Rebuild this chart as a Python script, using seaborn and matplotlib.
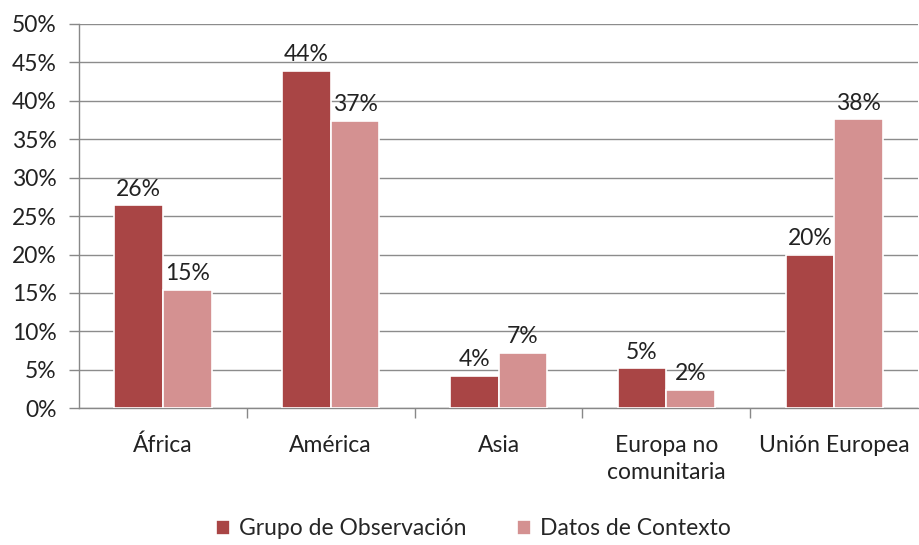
import numpy as np
import pandas as pd
import seaborn as sns
from matplotlib import pyplot as plt

regiones = ['África', 'América', 'Asia', 'Europa no\ncomunitaria', 'Unión Europea']
series = ['Grupo de Observación', 'Datos de Contexto']
grupo_obs = [26.4, 43.9, 4.2, 5.2, 20.0]
datos_ctx = [15.4, 37.4, 7.2, 2.4, 37.6]
colores = ['#A94545', '#D49191']

df = pd.DataFrame({
    'region': regiones * 2,
    'serie': [series[0]] * len(regiones) + [series[1]] * len(regiones),
    'valor': grupo_obs + datos_ctx,
})

sns.set_theme(style='white')
plt.rcParams['font.family'] = ['Lato', 'DejaVu Sans']

fig = plt.figure(figsize=(9.19, 5.45), dpi=100)
ax = fig.add_axes([0.086, 0.251, 0.913, 0.705])

sns.barplot(data=df, x='region', y='valor', hue='serie', order=regiones,
            hue_order=series, palette=colores, width=0.58,
            edgecolor='white', linewidth=1.2, saturation=1, ax=ax, zorder=3)

for cont in ax.containers:
    ax.bar_label(cont, fmt='%.0f%%', padding=4, fontsize=16.5, color='#222222')

ax.set_ylim(0, 50)
ax.set_xlim(-0.5, 4.5)
ax.set_yticks(np.arange(0, 51, 5))
ax.set_yticklabels([f'{v}%' for v in range(0, 51, 5)], fontsize=16.5, color='#222222')
ax.tick_params(axis='y', left=True, length=7, color='#888888', width=1, pad=9)
ax.yaxis.grid(True, color='#8c8c8c', linewidth=1)
ax.set_axisbelow(True)

ax.set_xticks(range(len(regiones)))
ax.set_xticklabels(regiones, fontsize=16.5, color='#222222', linespacing=1.35)
ax.tick_params(axis='x', length=0, pad=19)
ax.set_xticks(np.arange(0.5, 4.5, 1), minor=True)
ax.tick_params(axis='x', which='minor', bottom=True, length=7, color='#888888', width=1)

ax.set_xlabel('')
ax.set_ylabel('')
for s in ['top', 'right']:
    ax.spines[s].set_visible(False)
for s in ['left', 'bottom']:
    ax.spines[s].set_color('#888888')
    ax.spines[s].set_linewidth(1)

ax.legend(loc='lower center', bbox_to_anchor=(0.47, -0.395), ncol=2, frameon=False,
          fontsize=16.5, handlelength=0.6, handleheight=0.6, handletextpad=0.4,
          columnspacing=2.2)

plt.savefig('out.png', dpi=100)
